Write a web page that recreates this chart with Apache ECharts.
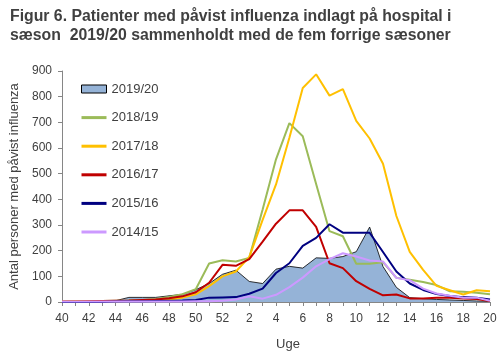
<!DOCTYPE html>
<html><head><meta charset="utf-8">
<script src="https://cdn.jsdelivr.net/npm/echarts@6/dist/echarts.min.js"></script>
<style>html,body{margin:0;padding:0;background:#fff}#c{width:500px;height:356px}</style>
</head><body><div id="c"></div>
<script>
const weeks = ['40','41','42','43','44','45','46','47','48','49','50','51','52','1','2','3','4','5','6','7','8','9','10','11','12','13','14','15','16','17','18','19','20'];
const s2019_20 = [0,0,0,2,5,18,18,18,24,30,48,72,108,124,80,72,128,139,132,172,170,177,196,292,138,57,17,13,10,8,6,4,2];
const s2018_19 = [0,2,3,4,5,6,8,12,20,30,50,150,163,158,172,360,556,697,646,460,276,256,149,149,155,94,87,78,66,42,40,36,30];
const s2017_18 = [2,4,3,3,3,4,5,7,10,17,30,62,100,119,175,320,458,640,834,887,804,829,706,637,539,335,195,125,63,46,29,46,42];
const s2016_17 = [2,2,3,4,5,6,8,10,15,22,38,75,145,141,167,235,305,357,357,293,151,132,81,51,26,29,14,14,17,17,14,12,4];
const s2015_16 = [0,0,0,0,2,3,3,4,5,6,8,17,18,19,32,52,113,151,219,250,303,270,270,270,195,119,72,47,31,23,19,17,10];
const s2014_15 = [2,2,2,2,2,2,2,2,2,2,3,3,5,10,22,13,28,58,95,139,167,190,177,162,158,94,85,52,33,24,17,17,5];
const names = ['2019/20','2018/19','2017/18','2016/17','2015/16','2014/15'];
const colors = ['#95b3d7','#9bbb59','#ffc000','#c00000','#000080','#cc99ff'];

const txt = '#404040';
const font = 'Liberation Sans';
const chart = echarts.init(document.getElementById('c'), null, {renderer:'canvas'});
const lineSeries = [s2018_19, s2017_18, s2016_17, s2015_16, s2014_15].map((d, i) => ({
  name: names[i+1], type: 'line', data: d, symbol: 'none', showSymbol: false, smooth: false,
  lineStyle: {color: colors[i+1], width: 2}, itemStyle: {color: colors[i+1]}, z: 3 + i
}));
chart.setOption({
  animation: false,
  title: {
    text: 'Figur 6. Patienter med påvist influenza indlagt på hospital i\nsæson  2019/20 sammenholdt med de fem forrige sæsoner',
    left: 5, top: 2,
    textStyle: {fontFamily: font, fontSize: 15.8, fontWeight: 'bold', color: txt, lineHeight: 19}
  },
  legend: {
    orient: 'vertical', left: 76, top: 76, itemWidth: 25, itemHeight: 8, itemGap: 12.6,
    textStyle: {fontFamily: font, fontSize: 13, color: txt, lineHeight: 16},
    data: [
      {name: names[0], icon: 'rect', itemStyle: {color: colors[0], borderColor: '#000', borderWidth: 1}},
      ...names.slice(1).map(n => ({name: n, icon: 'path://M0,0L25,0L25,3L0,3Z', itemStyle: {borderWidth: 0}}))
    ],
    itemStyle: {borderWidth: 0}
  },
  grid: {left: 60, right: 10, top: 71, bottom: 52, containLabel: false},
  xAxis: {
    type: 'category', data: weeks, boundaryGap: false,
    name: 'Uge', nameLocation: 'middle', nameGap: 36,
    nameTextStyle: {fontFamily: font, fontSize: 13, color: txt, padding: [0,0,0,24]},
    axisLine: {lineStyle: {color: '#868686', width: 1}},
    axisTick: {show: true, interval: 0, length: 4, lineStyle: {color: '#868686'}},
    axisLabel: {interval: 1, fontFamily: font, fontSize: 12, color: txt, margin: 11}
  },
  yAxis: {
    type: 'value', min: 0, max: 900, interval: 100,
    name: 'Antal personer med påvist influenza', nameLocation: 'middle', nameGap: 41,
    nameTextStyle: {fontFamily: font, fontSize: 13, color: txt},
    axisLine: {show: true, lineStyle: {color: '#868686', width: 1}},
    axisTick: {show: true, length: 4, lineStyle: {color: '#868686'}},
    splitLine: {show: false},
    axisLabel: {fontFamily: font, fontSize: 12, color: txt, margin: 10}
  },
  series: [
    {name: names[0], type: 'line', data: s2019_20, symbol: 'none', showSymbol: false,
     lineStyle: {color: '#000', width: 0.8}, itemStyle: {color: colors[0]},
     areaStyle: {color: colors[0], opacity: 1}, z: 2},
    ...lineSeries
  ]
});
</script></body></html>
